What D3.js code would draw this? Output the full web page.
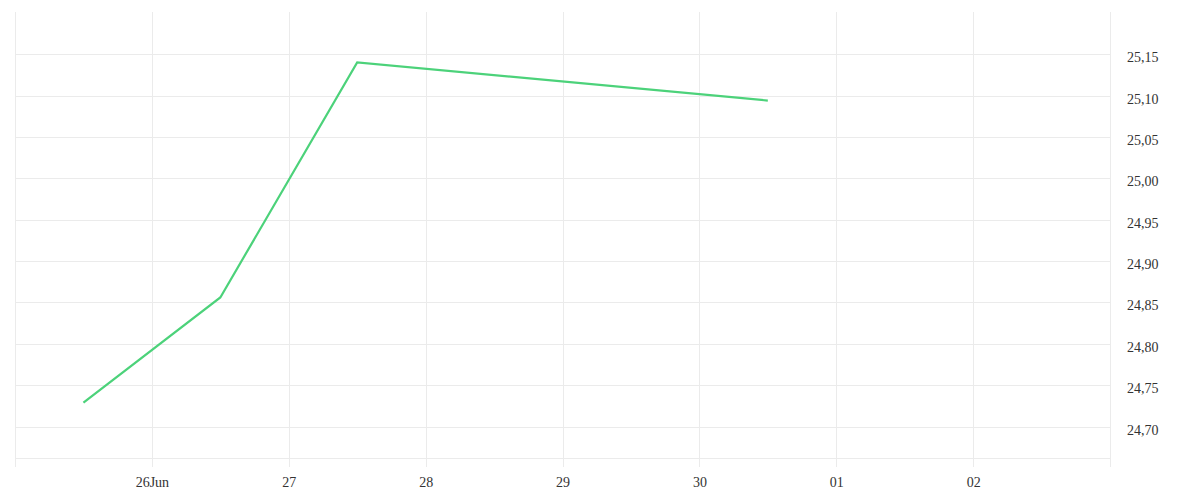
<!DOCTYPE html>
<html><head><meta charset="utf-8">
<script src="https://cdn.jsdelivr.net/npm/d3@7"></script>
<style>
html,body{margin:0;padding:0;background:#fff;}
</style></head>
<body><svg id="c" width="1200" height="500"></svg>
<script>
const dates = ["2024-06-25T12:00","2024-06-26T12:00","2024-06-27T12:00","2024-06-30T12:00"];
const values = [24.729, 24.856, 25.140, 25.094];
const xDomain = ["2024-06-25T00:00","2024-07-03T00:00"];
const yDomain = [24.662, 25.201];
const yTicks = [24.70,24.75,24.80,24.85,24.90,24.95,25.00,25.05,25.10,25.15];
const xTicks = ["2024-06-26","2024-06-27","2024-06-28","2024-06-29","2024-06-30","2024-07-01","2024-07-02"];

const FONT = "'Liberation Serif', 'Times New Roman', serif";
const parse = d3.timeParse("%Y-%m-%dT%H:%M");
const parseDay = d3.timeParse("%Y-%m-%d");
const locale = d3.formatLocale({decimal:",",thousands:".",grouping:[3],currency:["","€"]});
const fmt = locale.format(".2f");

const L=15,R=1110,T=12,B=458;
const svg = d3.select("#c");
const x = d3.scaleTime().domain(xDomain.map(parse)).range([L,R]);
const y = d3.scaleLinear().domain(yDomain).range([B,T]);

const grid = svg.append("g").attr("stroke","#ebebeb").attr("stroke-width",1);
const vx = [parse(xDomain[0])].concat(xTicks.map(parseDay)).concat([parse(xDomain[1])]);
grid.selectAll("line.v").data(vx).join("line")
  .attr("x1",d=>Math.round(x(d))+0.5).attr("x2",d=>Math.round(x(d))+0.5)
  .attr("y1",T).attr("y2",B+9);
grid.selectAll("line.h").data(yTicks).join("line")
  .attr("x1",L).attr("x2",R)
  .attr("y1",d=>Math.round(y(d))+0.5).attr("y2",d=>Math.round(y(d))+0.5);
grid.append("line").attr("x1",L).attr("x2",R).attr("y1",B+0.5).attr("y2",B+0.5);

const xAxis = d3.axisBottom(x).tickValues(xTicks.map(parseDay)).tickSize(0).tickPadding(0)
  .tickFormat((d,i)=> i===0 ? d3.timeFormat("%d")(d)+"Jun" : d3.timeFormat("%d")(d));
const gx = svg.append("g").attr("transform",`translate(0,${B+19})`).call(xAxis)
  .attr("font-family",FONT).attr("font-size",14);
gx.select(".domain").remove();
gx.selectAll("text").attr("fill","#333").attr("dy","0.71em");

const yAxis = d3.axisRight(y).tickValues(yTicks).tickSize(0).tickPadding(0).tickFormat(fmt);
const gy = svg.append("g").attr("transform",`translate(${R+17},3)`).call(yAxis)
  .attr("font-family",FONT).attr("font-size",14);
gy.select(".domain").remove();
gy.selectAll("text").attr("fill","#333");

const data = dates.map((d,i)=>({t:parse(d),v:values[i]}));
svg.append("path").datum(data)
  .attr("fill","none").attr("stroke","#4cd27a").attr("stroke-width",2.2)
  .attr("d",d3.line().x(d=>x(d.t)).y(d=>y(d.v)));
</script></body></html>
